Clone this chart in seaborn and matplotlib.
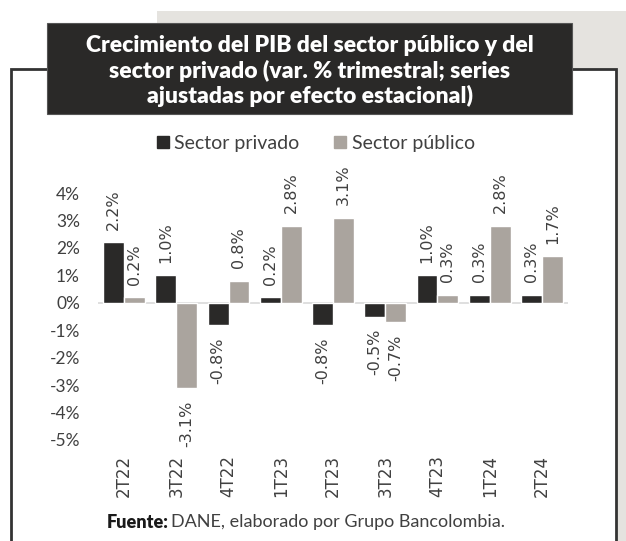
import pandas as pd
import numpy as np
import seaborn as sns
import matplotlib.pyplot as plt
from matplotlib.patches import Rectangle
from matplotlib.lines import Line2D

trimestres = ['2T22', '3T22', '4T22', '1T23', '2T23', '3T23', '4T23', '1T24', '2T24']
privado = [2.2, 1.0, -0.8, 0.2, -0.8, -0.5, 1.0, 0.3, 0.3]
publico = [0.2, -3.1, 0.8, 2.8, 3.1, -0.7, 0.3, 2.8, 1.7]
series = ['Sector privado', 'Sector público']
colores = ['#2a2928', '#aaa49e']
yticks = [4, 3, 2, 1, 0, -1, -2, -3, -4, -5]

df = pd.DataFrame({
    'trimestre': trimestres * 2,
    'serie': [series[0]] * len(trimestres) + [series[1]] * len(trimestres),
    'valor': privado + publico,
})

sns.set_style('white')
plt.rcParams['font.family'] = ['Lato', 'DejaVu Sans']
texto = '#404040'

W, H = 626, 541
fig = plt.figure(figsize=(W / 100, H / 100), dpi=100)

# fondo gris y marco
fig.patches.append(Rectangle((157 / W, 0), 1 - 157 / W, 1 - 11 / H, transform=fig.transFigure,
                             facecolor='#e5e3df', edgecolor='none', zorder=0))
fig.patches.append(Rectangle((11 / W, -0.01), (616 - 11) / W, 1 - 69 / H + 0.01, transform=fig.transFigure,
                             facecolor='white', edgecolor='#333333', linewidth=2, zorder=1))
# caja del titulo
fig.patches.append(Rectangle((47 / W, 1 - 114 / H), (572 - 47) / W, (114 - 23) / H, transform=fig.transFigure,
                             facecolor='#2a2928', edgecolor='#555555', linewidth=0.8, zorder=2))
fig.text(310 / W, 1 - 71 / H,
         'Crecimiento del PIB del sector público y del\nsector privado (var. % trimestral; series\najustadas por efecto estacional)',
         ha='center', va='center', color='white', fontsize=16.5, fontweight='heavy', linespacing=1.17, zorder=3)

ax = fig.add_axes([98 / W, 1 - 440 / H, 470 / W, (440 - 193) / H])
ax.set_zorder(5)
ax.patch.set_alpha(0)
sns.barplot(data=df, x='trimestre', y='valor', hue='serie', palette=colores, order=trimestres,
            hue_order=series, width=0.8, saturation=1, ax=ax)

ax.set_ylim(-5, 4)
ax.set_yticks(yticks)
ax.set_yticklabels([f'{t}%' for t in yticks], fontsize=12.5, color=texto)
ax.set_xlabel('')
ax.set_ylabel('')
ax.tick_params(axis='y', length=0, pad=13)
ax.tick_params(axis='x', length=0, pad=11)
for lab in ax.get_xticklabels():
    lab.set_rotation(90)
    lab.set_fontsize(12)
    lab.set_family('DejaVu Sans')
    lab.set_color(texto)
sns.despine(ax=ax, left=True, bottom=True)
ax.axhline(0, color='#d9d9d9', linewidth=1.2, zorder=0)

for cont, vals in zip(ax.containers, [privado, publico]):
    for p, v in zip(cont.patches, vals):
        xc = p.get_x() + p.get_width() / 2
        off = 9 if v >= 0 else -9
        ax.annotate(f'{v:.1f}%', xy=(xc, v), xytext=(0, off), textcoords='offset points',
                    rotation=90, ha='center', va='bottom' if v >= 0 else 'top',
                    fontsize=11.5, family='DejaVu Sans', color=texto, annotation_clip=False)

ax.get_legend().remove()
handles = [Line2D([], [], marker='s', linestyle='none', markersize=9, color=c) for c in colores]
fig.legend(handles, series, loc='center', bbox_to_anchor=(314 / W, 1 - 143 / H), ncol=2, frameon=False,
           handletextpad=0.1, columnspacing=1.6, handlelength=1.0, prop={'size': 14}, labelcolor=texto)

fig.text(169 / W, 1 - 522 / H, 'Fuente:', ha='right', va='center', fontsize=13, fontweight='heavy',
         color='#1a1a1a')
fig.text(171 / W, 1 - 522 / H, 'DANE, elaborado por Grupo Bancolombia.', ha='left', va='center',
         fontsize=13, color=texto)

fig.savefig('out.png', dpi=100)
